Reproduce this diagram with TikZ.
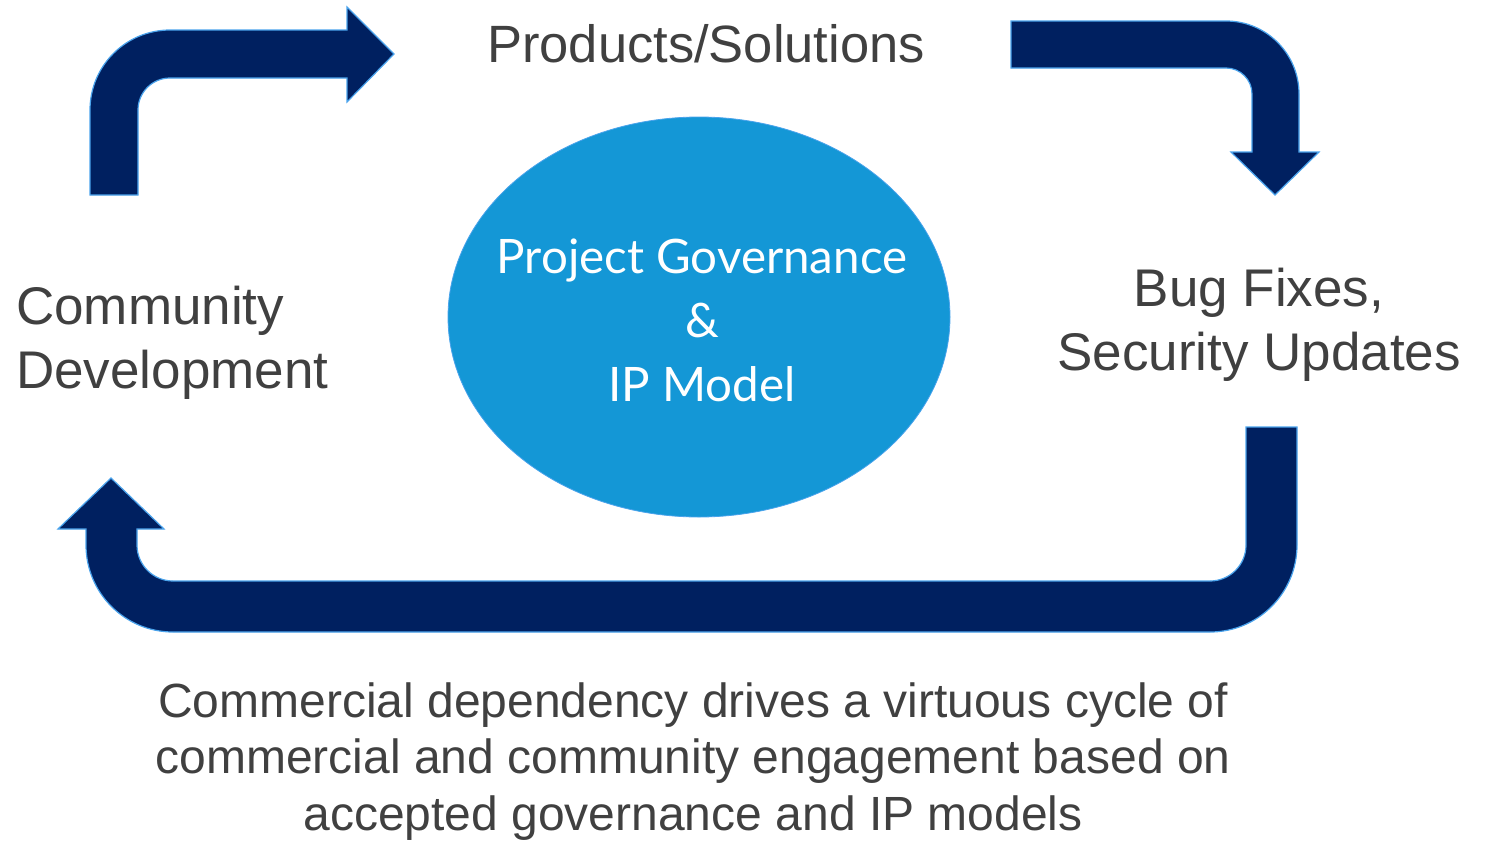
\documentclass[tikz,border=0pt]{standalone}
\usepackage{fontspec}
\setmainfont{Liberation Sans}
\newfontfamily\gillfont{Lato}
\usepackage{tikz}
\usetikzlibrary{shapes.geometric}

\definecolor{arrowblue}{HTML}{002060}
\definecolor{rimblue}{HTML}{4AA3EC}
\definecolor{coreblue}{HTML}{1497D6}
\definecolor{textgray}{HTML}{404040}

\tikzset{
  bigarrow/.style={fill=arrowblue, draw=rimblue, line width=1.2pt, line join=miter},
  caption/.style={text=textgray, inner sep=0pt, font=\fontsize{53}{64}\selectfont},
}

\begin{document}
\begin{tikzpicture}[x=1pt, y=-1pt]
    \useasboundingbox (0,0) rectangle (1491,841);

    % governance core
    \node[shape=ellipse, fill=coreblue, draw=rimblue, line width=0.8pt,
          minimum width=502pt, minimum height=400pt, inner sep=0pt] (core) at (699,317) {};
    \node[text=white, inner sep=0pt, align=center,
          font=\gillfont\fontsize{47.5}{64}\selectfont] (coretitle) at (702,320)
          {Project Governance\\\&\\IP Model};

    % top left arrow, up and right
    \path[bigarrow] (90,195) -- (90,110) arc[start angle=180, end angle=270, radius=80]
        -- (347,30) -- (347,7) -- (394,54) -- (347,102) -- (347,78) -- (170,78)
        arc[start angle=270, end angle=180, radius=32] -- (138,195) -- cycle;

    % top right arrow, right and down
    \path[bigarrow] (1011,21) -- (1226,21) arc[start angle=270, end angle=360, radius=73]
        -- (1299,152) -- (1319,152) -- (1275,195) -- (1231,152) -- (1252,152) -- (1252,94)
        arc[start angle=0, end angle=-90, radius=26] -- (1011,68) -- cycle;

    % bottom arrow, back round to the left
    \path[bigarrow] (1246,427) -- (1297,427) -- (1297,545)
        arc[start angle=0, end angle=90, radius=87] -- (173,632)
        arc[start angle=90, end angle=180, radius=87] -- (86,529) -- (58,529)
        -- (111,478) -- (164,529) -- (137,529) -- (137,545)
        arc[start angle=180, end angle=90, radius=36] -- (1210,581)
        arc[start angle=90, end angle=0, radius=36] -- cycle;

    % labels (base anchor sits on the last line)
    \node[caption, anchor=base, font=\fontsize{52.5}{64}\selectfont] (products) at (706,62)
        {Products/Solutions};
    \node[caption, anchor=base west, align=left] (community) at (16,388)
        {Community\\Development};
    \node[caption, anchor=base, align=center] (bugfix) at (1259,370)
        {Bug Fixes,\\Security Updates};
    \node[caption, anchor=base, align=center, font=\fontsize{48}{56.5}\selectfont] (summary) at (693,830)
        {Commercial dependency drives a virtuous cycle of\\
         commercial and community engagement based on\\
         accepted governance and IP models};
\end{tikzpicture}
\end{document}
